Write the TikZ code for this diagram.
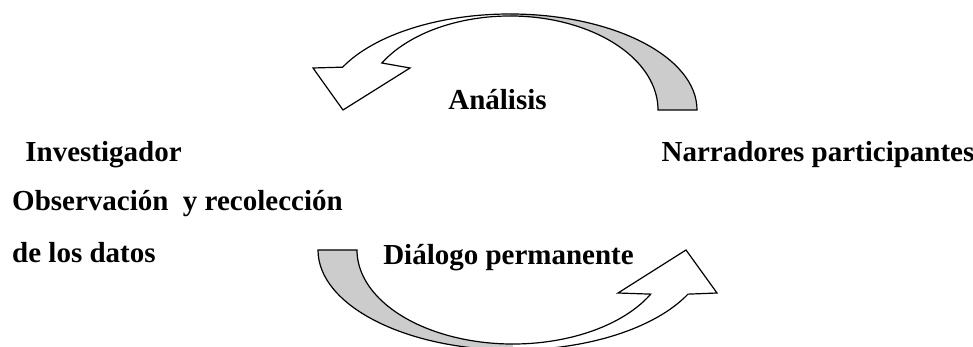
\documentclass[tikz,border=0pt]{standalone}
\usepackage{fontspec}
\setmainfont{Liberation Serif}
\usetikzlibrary{calc}
\begin{document}
\begin{tikzpicture}[x=1pt,y=1pt,
  lbl/.style={font=\bfseries\fontsize{29}{35}\selectfont, inner sep=0pt},
  band/.style={draw=black, line width=1.2pt, line join=miter},
  under/.style={fill=gray!40},
  face/.style={fill=white}]
\useasboundingbox (0,0) rectangle (973,347);
\clip (0,0) rectangle (973,347);
\coordinate (c1) at (510,237);
\coordinate (c2) at (513,97);
% top curved arrow (tail right, head left)
\fill[under] ($(c1)+(0:187pt and 96pt)$)
  arc[start angle=0, end angle=90, x radius=187pt, y radius=96pt]
  -- ($(c1)+(90:148pt and 94pt)$)
  arc[start angle=90, end angle=0, x radius=148pt, y radius=94pt] -- cycle;
\fill[face] ($(c1)+(90:148pt and 94pt)$)
  arc[start angle=90, end angle=150, x radius=148pt, y radius=94pt]
  -- (410,279) -- (343,237) -- (313,279)
  -- ($(c1)+(153.5:187pt and 96pt)$)
  arc[start angle=153.5, end angle=90, x radius=187pt, y radius=96pt] -- cycle;
\draw[band] ($(c1)+(0:187pt and 96pt)$)
  arc[start angle=0, end angle=153.5, x radius=187pt, y radius=96pt]
  -- (313,279) -- (343,237) -- (410,279)
  -- ($(c1)+(150:148pt and 94pt)$)
  arc[start angle=150, end angle=0, x radius=148pt, y radius=94pt] -- cycle;
% bottom curved arrow (tail left, head right)
\fill[under] ($(c2)+(180:195pt and 100pt)$)
  arc[start angle=180, end angle=270, x radius=195pt, y radius=100pt]
  -- ($(c2)+(270:156pt and 94pt)$)
  arc[start angle=270, end angle=180, x radius=156pt, y radius=94pt] -- cycle;
\fill[face] ($(c2)+(270:156pt and 94pt)$)
  arc[start angle=270, end angle=332, x radius=156pt, y radius=94pt]
  -- (618,54) -- (686,97) -- (717,54)
  -- ($(c2)+(333.8:195pt and 100pt)$)
  arc[start angle=333.8, end angle=270, x radius=195pt, y radius=100pt] -- cycle;
\draw[band] ($(c2)+(180:195pt and 100pt)$)
  arc[start angle=180, end angle=333.8, x radius=195pt, y radius=100pt]
  -- (717,54) -- (686,97) -- (618,54)
  -- ($(c2)+(332:156pt and 94pt)$)
  arc[start angle=332, end angle=180, x radius=156pt, y radius=94pt] -- cycle;
% labels
\node[lbl, anchor=base] (ana) at (497.5,237) {Análisis};
\node[lbl, anchor=base] (inv) at (103.5,185) {Investigador};
\node[lbl, anchor=base] (nar) at (818,185) {Narradores participantes};
\node[lbl, anchor=base west] (obs) at (12,136) {Observación\ \ y recolección};
\node[lbl, anchor=base west] (dat) at (12,84) {de los datos};
\node[lbl, anchor=base] (dia) at (508.5,82) {Diálogo permanente};
\end{tikzpicture}
\end{document}
